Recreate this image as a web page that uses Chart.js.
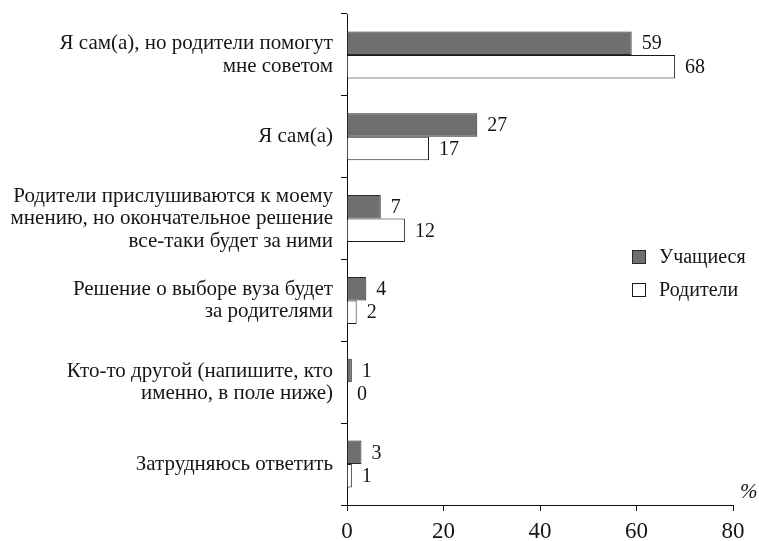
<!DOCTYPE html>
<html><head><meta charset="utf-8">
<script src="https://cdn.jsdelivr.net/npm/chart.js@4/dist/chart.umd.min.js"></script>
<style>html,body{margin:0;padding:0;background:#fff}#wrap{width:759px;height:541px}</style>
</head><body><div id="wrap"><canvas id="c" width="759" height="541"></canvas></div>
<script>
const categories = [
  ["Я сам(а), но родители помогут", "мне советом"],
  ["Я сам(а)"],
  ["Родители прислушиваются к моему", "мнению, но окончательное решение", "все-таки будет за ними"],
  ["Решение о выборе вуза будет", "за родителями"],
  ["Кто-то другой (напишите, кто", "именно, в поле ниже)"],
  ["Затрудняюсь ответить"]
];
const seriesNames = ["Учащиеся", "Родители"];
const students = [59, 27, 7, 4, 1, 3];
const parents = [68, 17, 12, 2, 0, 1];
const xTicks = [0, 20, 40, 60, 80];
const unitLabel = "%";

const FONT = "'Liberation Serif', 'Times New Roman', serif";
const TXT = "#151515";

const valueLabels = {
  id: 'valueLabels',
  afterDatasetsDraw(chart) {
    const ctx = chart.ctx;
    ctx.save();
    ctx.font = "20px " + FONT;
    ctx.fillStyle = TXT;
    ctx.textAlign = "left";
    ctx.textBaseline = "middle";
    chart.data.datasets.forEach((ds, i) => {
      const meta = chart.getDatasetMeta(i);
      meta.data.forEach((el, j) => {
        ctx.fillText(String(ds.data[j]), el.x + 10, el.y + 1);
      });
    });
    ctx.restore();
  }
};

const customLegend = {
  id: 'customLegend',
  afterDraw(chart) {
    const ctx = chart.ctx;
    ctx.save();
    ctx.font = "20px " + FONT;
    ctx.textBaseline = "middle";
    ctx.textAlign = "left";
    chart.data.datasets.forEach((ds, i) => {
      const y = 257 + i * 33;
      ctx.fillStyle = ds.backgroundColor;
      ctx.fillRect(632.5, y - 6.5, 13, 13);
      ctx.strokeStyle = ds.borderColor;
      ctx.lineWidth = 1;
      ctx.strokeRect(632.5, y - 6.5, 13, 13);
      ctx.fillStyle = TXT;
      ctx.fillText(ds.label, 659, y + 1);
    });
    ctx.font = "italic 21px " + FONT;
    ctx.fillText(unitLabel, 740, chart.chartArea.bottom - 13);
    ctx.restore();
  }
};

new Chart(document.getElementById('c'), {
  type: 'bar',
  data: {
    labels: categories,
    datasets: [
      { label: seriesNames[0], data: students, backgroundColor: "#6f6f6f", borderColor: "#2a2a2a", borderWidth: 1 },
      { label: seriesNames[1], data: parents, backgroundColor: "#ffffff", borderColor: "#1a1a1a", borderWidth: 1 }
    ]
  },
  options: {
    indexAxis: 'y',
    responsive: false,
    animation: false,
    devicePixelRatio: 1,
    layout: { padding: { top: 14, right: 26, left: 0, bottom: 0 } },
    datasets: { bar: { categoryPercentage: 0.575, barPercentage: 1 } },
    plugins: { legend: { display: false }, tooltip: { enabled: false } },
    scales: {
      x: {
        min: 0, max: 80,
        afterBuildTicks: (s) => { s.ticks = xTicks.map(v => ({ value: v })); },
        afterFit: (s) => { s.height = 36; s.paddingLeft = 0; s.paddingRight = 0; },
        border: { color: "#111", width: 1 },
        grid: { display: true, drawOnChartArea: false, drawTicks: true, tickLength: 6, color: "#111" },
        ticks: { color: TXT, font: { family: FONT, size: 23 }, padding: 7 }
      },
      y: {
        afterFit: (s) => { s.width = 347; s.paddingTop = 0; s.paddingBottom = 0; },
        border: { color: "#111", width: 1 },
        grid: { display: true, drawOnChartArea: false, drawTicks: true, tickLength: 6, color: "#111" },
        ticks: { color: TXT, font: { family: FONT, size: 21, lineHeight: 1.07 }, padding: 8 }
      }
    }
  },
  plugins: [valueLabels, customLegend]
});
</script>
</body></html>
